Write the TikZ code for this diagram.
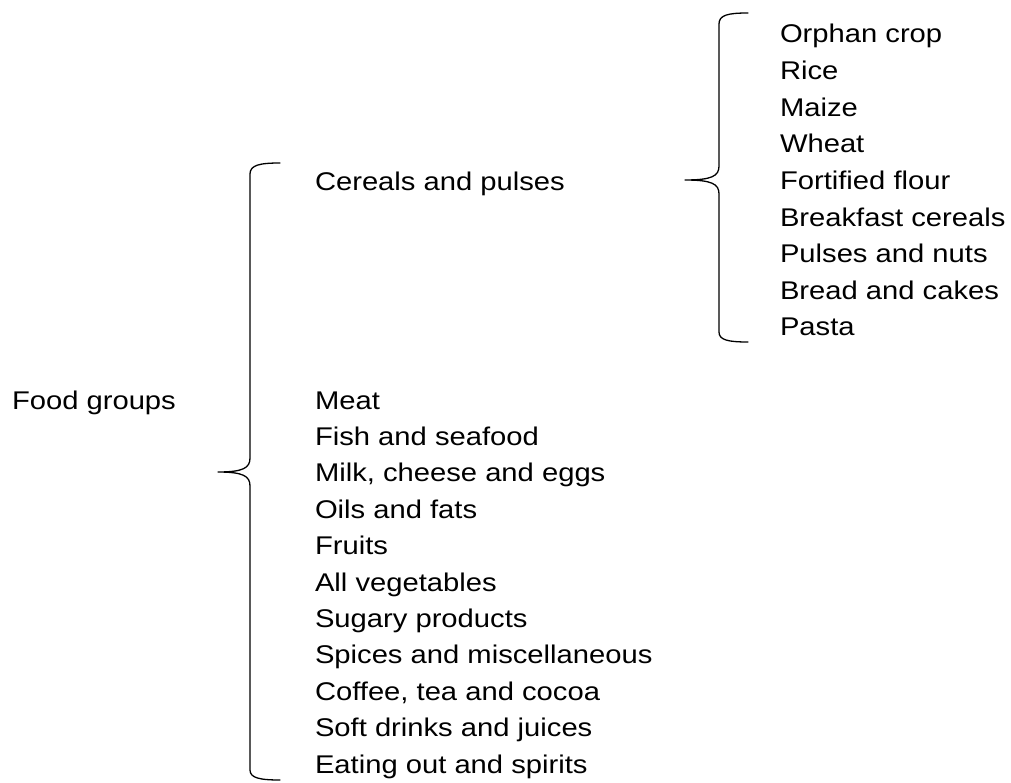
\documentclass[tikz,border=0pt]{standalone}
\usepackage{fontspec}
\setmainfont[FakeStretch=1.14]{Liberation Sans}
\begin{document}
\begin{tikzpicture}[x=1bp,y=-1bp,
  lbl/.style={anchor=base west,inner sep=0pt,outer sep=0pt,font=\fontsize{25.6bp}{36.5bp}\selectfont},
  brace/.style={draw=black,line width=1.3bp,line join=round,line cap=round}]
\useasboundingbox (0,0) rectangle (1011,783);
% left label
\node[lbl] (food) at (12,409) {Food groups};
% middle column
\node[lbl] (cer) at (315,190) {Cereals and pulses};
\foreach \t [count=\i from 0] in {Meat,Fish and seafood,{Milk, cheese and eggs},Oils and fats,Fruits,All vegetables,Sugary products,Spices and miscellaneous,{Coffee, tea and cocoa},Soft drinks and juices,Eating out and spirits}
  \node[lbl] (m\i) at (315,409+\i*36.4) {\t};
% right column
\foreach \t [count=\i from 0] in {Orphan crop,Rice,Maize,Wheat,Fortified flour,Breakfast cereals,Pulses and nuts,Bread and cakes,Pasta}
  \node[lbl] (r\i) at (780,43+\i*36.6) {\t};
% right brace
\coordinate (rtop) at (748,13);
\coordinate (rtip) at (685,180);
\coordinate (rbot) at (748,342);
\draw[brace] (rtop) .. controls (728,13) and (719,15) .. (719,24)
  -- (719,166) .. controls (719,176) and (712,180) .. (rtip)
  .. controls (712,180) and (719,184) .. (719,194)
  -- (719,332) .. controls (719,340) and (728,342) .. (rbot);
% left brace
\coordinate (ltop) at (280,163);
\coordinate (ltip) at (218,472);
\coordinate (lbot) at (280,780);
\draw[brace] (ltop) .. controls (260,163) and (250,165) .. (250,174)
  -- (250,458) .. controls (250,468) and (243,472) .. (ltip)
  .. controls (243,472) and (250,476) .. (250,486)
  -- (250,770) .. controls (250,778) and (260,780) .. (lbot);
\end{tikzpicture}
\end{document}
